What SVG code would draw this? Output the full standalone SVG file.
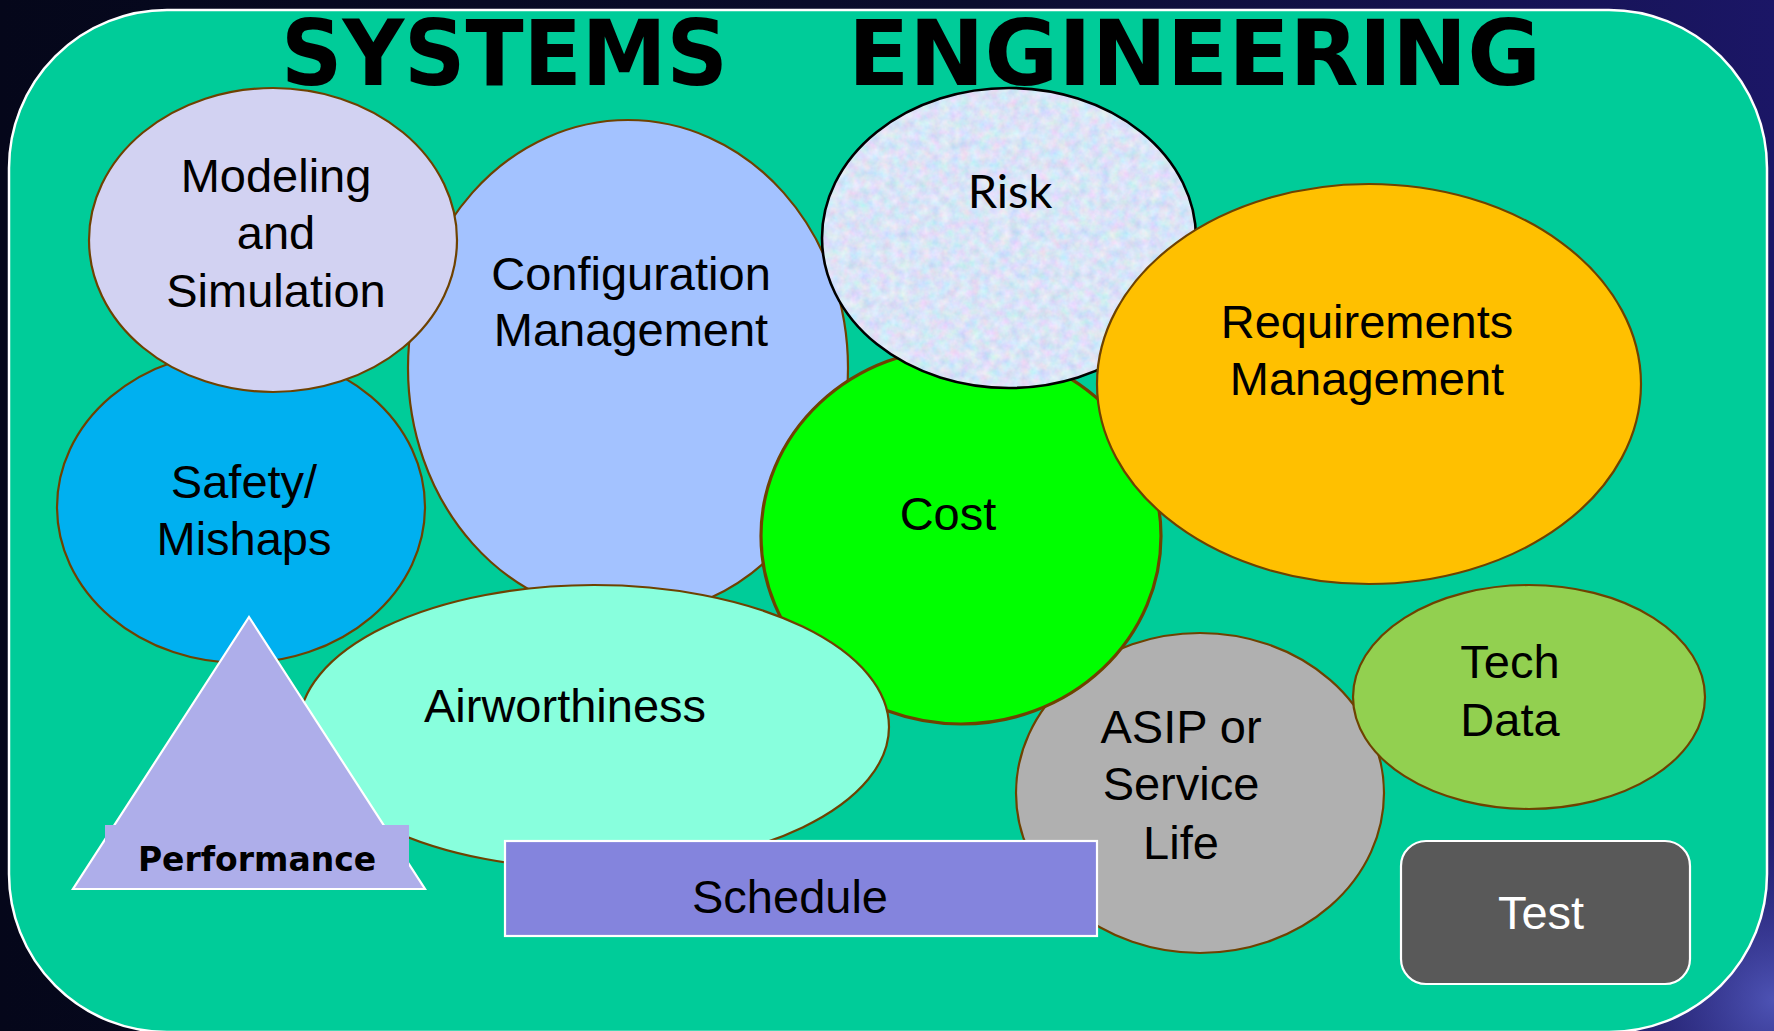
<svg xmlns="http://www.w3.org/2000/svg" width="1774" height="1031" viewBox="0 0 1774 1031">
<defs>
<linearGradient id="bg" x1="0" y1="0" x2="1" y2="0">
<stop offset="0" stop-color="#05071a"/>
<stop offset="0.55" stop-color="#0b0d2e"/>
<stop offset="1" stop-color="#1b1666"/>
</linearGradient>
<radialGradient id="glow" cx="1774" cy="1000" r="260" gradientUnits="userSpaceOnUse">
<stop offset="0" stop-color="#5a62c8" stop-opacity="0.8"/>
<stop offset="1" stop-color="#1b1666" stop-opacity="0"/>
</radialGradient>
<filter id="tex" x="0" y="0" width="100%" height="100%">
<feTurbulence type="fractalNoise" baseFrequency="0.1" numOctaves="3" seed="7" result="n"/>
<feColorMatrix in="n" type="matrix" values="0.5 0 0 0 0.45  0 0.35 0 0 0.6  0 0 0.25 0 0.8  0 0 0 0 1" result="c"/>
<feComposite in="c" in2="SourceAlpha" operator="in"/>
</filter>
<style>
.e{stroke:#6e4200;stroke-width:2.2}
.t{font-family:"Liberation Sans",Arial,sans-serif;font-size:47px;fill:#000;text-anchor:middle}
.w{stroke:#ffffff;stroke-width:2.2}
</style>
</defs>
<rect x="0" y="0" width="1774" height="1031" fill="url(#bg)"/>
<rect x="0" y="0" width="1774" height="1031" fill="url(#glow)"/>
<rect id="frame" x="9" y="10" width="1758" height="1022" rx="158" ry="158" fill="#00cc99" stroke="#ffffff" stroke-width="2.5"/>
<g id="title" font-family="'DejaVu Sans',Verdana,sans-serif" font-weight="bold" font-size="91" fill="#000">
<text x="281" y="85" textLength="447" lengthAdjust="spacingAndGlyphs">SYSTEMS</text>
<text x="848" y="85" textLength="693" lengthAdjust="spacingAndGlyphs">ENGINEERING</text>
</g>
<g id="connectors"></g>
<g id="config">
<ellipse class="e" cx="628" cy="368" rx="220" ry="248" fill="#a3c2ff"/>
<text class="t" x="631" y="290">Configuration</text>
<text class="t" x="631" y="346">Management</text>
</g>
<g id="safety">
<ellipse class="e" cx="241" cy="507" rx="184" ry="156" fill="#00b0f0"/>
<text class="t" x="244" y="498">Safety/</text>
<text class="t" x="244" y="555">Mishaps</text>
</g>
<g id="modeling">
<ellipse class="e" cx="273" cy="240" rx="184" ry="152" fill="#d2d2f2"/>
<text class="t" x="276" y="192">Modeling</text>
<text class="t" x="276" y="249">and</text>
<text class="t" x="276" y="307">Simulation</text>
</g>
<g id="asip">
<ellipse class="e" cx="1200" cy="793" rx="184" ry="160" fill="#b0b0b0"/>
<text class="t" x="1181" y="743">ASIP or</text>
<text class="t" x="1181" y="800">Service</text>
<text class="t" x="1181" y="859">Life</text>
</g>
<g id="cost">
<ellipse cx="961" cy="536" rx="200" ry="188" fill="#00ff00" stroke="#6e4200" stroke-width="3.2"/>
<text class="t" x="948" y="530">Cost</text>
</g>
<g id="risk">
<ellipse cx="1009" cy="238" rx="187" ry="150" fill="#c8d8f4"/>
<ellipse cx="1009" cy="238" rx="187" ry="150" fill="#000" filter="url(#tex)"/>
<ellipse cx="1009" cy="238" rx="187" ry="150" fill="none" stroke="#000" stroke-width="2.6"/>
<text x="1010" y="208" font-family="Lato,'Liberation Sans',sans-serif" font-size="47" text-anchor="middle" fill="#000">Risk</text>
</g>
<g id="requirements">
<ellipse class="e" cx="1369" cy="384" rx="272" ry="200" fill="#ffc000"/>
<text class="t" x="1367" y="338">Requirements</text>
<text class="t" x="1367" y="395">Management</text>
</g>
<g id="airworthiness">
<ellipse class="e" cx="594" cy="727" rx="295" ry="142" fill="#88ffdd"/>
<text class="t" x="565" y="722">Airworthiness</text>
</g>
<g id="techdata">
<ellipse class="e" cx="1529" cy="697" rx="176" ry="112" fill="#92d050"/>
<text class="t" x="1510" y="678">Tech</text>
<text class="t" x="1510" y="736">Data</text>
</g>
<g id="schedule">
<rect class="w" x="505" y="841" width="592" height="95" fill="#8484dd"/>
<text class="t" x="790" y="913">Schedule</text>
</g>
<g id="performance">
<polygon class="w" points="249,617 425,889 73,889" fill="#aeaeea"/>
<rect x="105" y="825" width="304" height="63" fill="#aeaeea"/>
<text x="257" y="871" font-family="'DejaVu Sans',Verdana,sans-serif" font-weight="bold" font-size="33" text-anchor="middle" fill="#000">Performance</text>
</g>
<g id="test">
<rect class="w" x="1401" y="841" width="289" height="143" rx="25" ry="25" fill="#595959"/>
<text class="t" x="1541" y="929" style="fill:#ffffff">Test</text>
</g>
</svg>
